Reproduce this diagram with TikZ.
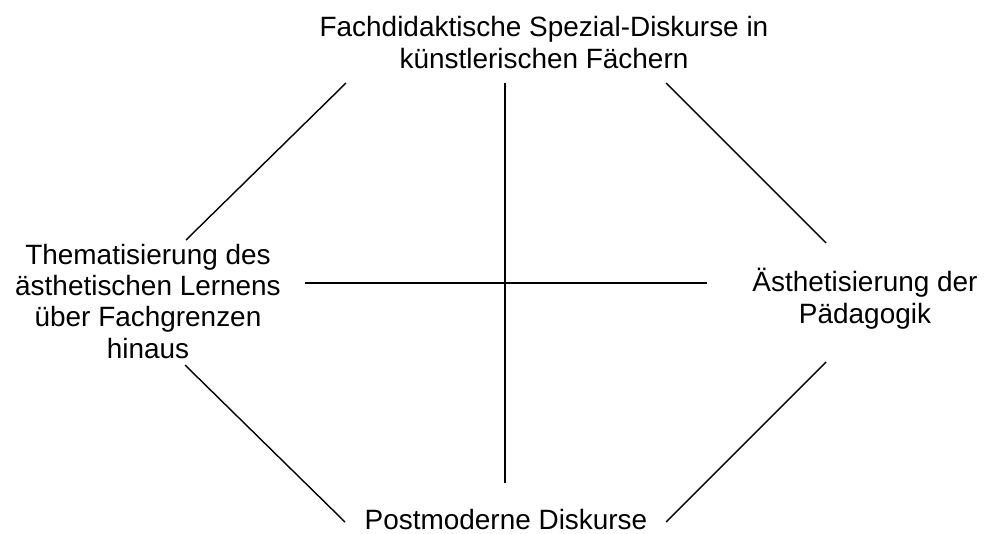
\documentclass[tikz,border=0pt]{standalone}
\usepackage{fontspec}
\setmainfont{Liberation Sans}
\tikzset{
  lbl/.style={inner sep=0pt, align=center, font=\fontsize{15.9}{17.8}\selectfont},
  ln/.style={line width=0.8pt, black}
}
\begin{document}
\begin{tikzpicture}[x=0.02cm, y=-0.02cm]
\useasboundingbox (0,0) rectangle (984,534);
% labels (anchor=base is the baseline of the last line)
\node[lbl, anchor=base] (top) at (544,68) {Fachdidaktische Spezial-Diskurse in\\künstlerischen Fächern};
\node[lbl, anchor=base] (left) at (148,358) {Thematisierung des\\ästhetischen Lernens\\über Fachgrenzen\\hinaus};
\node[lbl, anchor=base] (right) at (865,323) {Ästhetisierung der\\Pädagogik};
\node[lbl, anchor=base] (bottom) at (506,529) {Postmoderne Diskurse};
% line ends
\coordinate (vT) at (505,83);
\coordinate (vB) at (505,483);
\coordinate (hL) at (305,283);
\coordinate (hR) at (707,283);
\coordinate (tl1) at (346,83);
\coordinate (tl2) at (186,240);
\coordinate (tr1) at (666,83);
\coordinate (tr2) at (826,243);
\coordinate (bl1) at (185,365);
\coordinate (bl2) at (345,522);
\coordinate (br1) at (826,362);
\coordinate (br2) at (666,522);
% connectors
\draw[ln] (vT) -- (vB);
\draw[ln] (hL) -- (hR);
\draw[ln] (tl1) -- (tl2);
\draw[ln] (tr1) -- (tr2);
\draw[ln] (bl1) -- (bl2);
\draw[ln] (br1) -- (br2);
\end{tikzpicture}
\end{document}
